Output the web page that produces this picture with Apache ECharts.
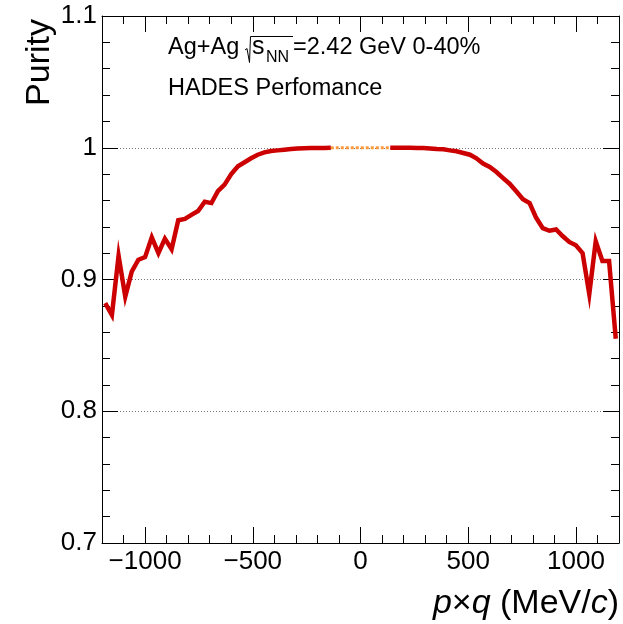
<!DOCTYPE html>
<html>
<head>
<meta charset="utf-8">
<script src="https://cdn.jsdelivr.net/npm/echarts@6/dist/echarts.min.js"></script>
<style>
html,body{margin:0;padding:0;background:#fff;}
#chart{width:623px;height:624px;}
</style>
</head>
<body>
<div id="chart"></div>
<script>
// p x q bin centres (MeV/c) and purity values
const leftX = [-1185,-1154,-1123,-1092,-1062,-1031,-1000,-969,-938,-908,-877,-846,-815,-785,-754,-723,-692,-662,-631,-600,-569,-538,-508,-477,-446,-415,-385,-354,-323,-292,-262,-231,-200,-169,-138];
const leftY = [0.882,0.873,0.918,0.887,0.906,0.915,0.917,0.932,0.920,0.931,0.923,0.945,0.946,0.949,0.952,0.959,0.958,0.967,0.972,0.980,0.986,0.989,0.992,0.9947,0.9965,0.9975,0.998,0.9985,0.999,0.9995,0.9997,0.9998,0.9999,0.9999,1.0];
const midX = [-138,-108,-77,-46,-15,15,46,77,108,138];
const midY = [1.0,1.0,1.0,1.0,1.0,1.0,1.0,1.0,1.0,1.0];
const rightX = [138,169,200,231,262,292,323,354,385,415,446,477,508,538,569,600,631,662,692,723,754,785,815,846,877,908,938,969,1000,1031,1062,1092,1123,1154,1185];
const rightY = [1.0,1.0,1.0,1.0,0.9999,0.9998,0.9995,0.999,0.9988,0.998,0.9973,0.996,0.9947,0.992,0.988,0.9854,0.9816,0.977,0.9727,0.967,0.961,0.958,0.947,0.939,0.937,0.938,0.933,0.9285,0.926,0.920,0.889,0.929,0.914,0.914,0.855];
const xMajorTicks = [-1000,-500,0,500,1000];

const FONT = '"Liberation Sans", Arial, Helvetica, sans-serif';
const zip = (xs, ys) => xs.map((x, i) => [x, ys[i]]);

const chart = echarts.init(document.getElementById('chart'), null, {renderer: 'canvas'});

const baseX = {type: 'value', min: -1200, max: 1200, splitLine: {show: false}, gridIndex: 0};
const option = {
  animation: false,
  backgroundColor: '#fff',
  grid: {left: 102, top: 16, width: 517, height: 527, containLabel: false, outerBoundsMode: 'none'},
  xAxis: [
    Object.assign({}, baseX, {
      position: 'bottom',
      axisLine: {show: true, onZero: false, lineStyle: {color: '#000', width: 1}},
      axisTick: {show: true, inside: true, length: 16, customValues: xMajorTicks, lineStyle: {color: '#000'}},
      axisLabel: {show: true, customValues: xMajorTicks, fontSize: 26, fontFamily: FONT, color: '#000', margin: 6,
        formatter: v => String(v).replace('-', '\u2212')}
    }),
    Object.assign({}, baseX, {
      position: 'bottom', interval: 100,
      axisLine: {show: false, onZero: false},
      axisTick: {show: true, inside: true, length: 8, lineStyle: {color: '#000'}},
      axisLabel: {show: false}
    }),
    Object.assign({}, baseX, {
      position: 'top',
      axisLine: {show: true, onZero: false, lineStyle: {color: '#000', width: 1}},
      axisTick: {show: true, inside: true, length: 16, customValues: xMajorTicks, lineStyle: {color: '#000'}},
      axisLabel: {show: false}
    }),
    Object.assign({}, baseX, {
      position: 'top', interval: 100,
      axisLine: {show: false, onZero: false},
      axisTick: {show: true, inside: true, length: 8, lineStyle: {color: '#000'}},
      axisLabel: {show: false}
    })
  ],
  yAxis: [
    {
      type: 'value', min: 0.7, max: 1.1, interval: 0.1, position: 'left',
      axisLine: {show: true, onZero: false, lineStyle: {color: '#000', width: 1}},
      axisTick: {show: true, inside: true, length: 16, lineStyle: {color: '#000'}},
      minorTick: {show: true, splitNumber: 5, length: 8, lineStyle: {color: '#000'}},
      axisLabel: {show: true, fontSize: 26, fontFamily: FONT, color: '#000', margin: 5,
        formatter: v => String(Math.round(v * 10) / 10)},
      splitLine: {show: true, lineStyle: {color: '#777', type: [1, 2], width: 1}}
    },
    {
      type: 'value', min: 0.7, max: 1.1, interval: 0.1, position: 'right',
      axisLine: {show: true, onZero: false, lineStyle: {color: '#000', width: 1}},
      axisTick: {show: true, inside: true, length: 16, lineStyle: {color: '#000'}},
      minorTick: {show: true, splitNumber: 5, length: 8, lineStyle: {color: '#000'}},
      axisLabel: {show: false},
      splitLine: {show: false}
    }
  ],
  series: [
    {
      type: 'line', name: 'mid', data: zip(midX, midY), xAxisIndex: 0, yAxisIndex: 0,
      showSymbol: false, symbol: 'none', z: 2,
      lineStyle: {color: '#ff9a3c', width: 3, type: [3, 2]}
    },
    {
      type: 'line', name: 'left', data: zip(leftX, leftY), xAxisIndex: 0, yAxisIndex: 0,
      showSymbol: false, symbol: 'none', z: 3,
      lineStyle: {color: '#cc0000', width: 4.5, join: 'miter'}
    },
    {
      type: 'line', name: 'right', data: zip(rightX, rightY), xAxisIndex: 0, yAxisIndex: 0,
      showSymbol: false, symbol: 'none', z: 3,
      lineStyle: {color: '#cc0000', width: 4.5, join: 'miter'}
    }
  ],
  graphic: [
    {type: 'text', x: 40, y: 19, rotation: Math.PI / 2,
      style: {text: 'Purity', fontSize: 34, fontFamily: FONT, fill: '#000', align: 'right', verticalAlign: 'middle'}},
    {type: 'text', x: 619, y: 621,
      style: {text: '{i|p}{n|\u00d7}{i|q}{n| (MeV/}{i|c}{n|)}', fontSize: 34, fontFamily: FONT, fill: '#000',
        align: 'right', verticalAlign: 'bottom',
        rich: {
          i: {fontSize: 34, fontFamily: FONT, fontStyle: 'italic', fill: '#000'},
          n: {fontSize: 34, fontFamily: FONT, fill: '#000'}
        }}},
    {type: 'text', x: 168, y: 47.4,
      style: {text: 'Ag+Ag', fontSize: 23.5, fontFamily: FONT, fill: '#000', align: 'left', verticalAlign: 'middle'}},
    {type: 'polyline', shape: {points: [[245, 50], [247, 48.5], [249.5, 62.5], [250.5, 36.5], [293, 36.5]]},
      style: {stroke: '#000', lineWidth: 1, fill: null}},
    {type: 'text', x: 252, y: 47,
      style: {text: 's', fontSize: 25, fontFamily: FONT, fill: '#000', align: 'left', verticalAlign: 'middle'}},
    {type: 'text', x: 266, y: 58,
      style: {text: 'NN', fontSize: 16, fontFamily: FONT, fill: '#000', align: 'left', verticalAlign: 'middle'}},
    {type: 'text', x: 293, y: 47.4,
      style: {text: '=2.42 GeV 0-40%', fontSize: 23.5, fontFamily: FONT, fill: '#000', align: 'left', verticalAlign: 'middle'}},
    {type: 'text', x: 168, y: 89,
      style: {text: 'HADES Perfomance', fontSize: 23.5, fontFamily: FONT, fill: '#000', align: 'left', verticalAlign: 'middle'}}
  ]
};
chart.setOption(option);
</script>
</body>
</html>
